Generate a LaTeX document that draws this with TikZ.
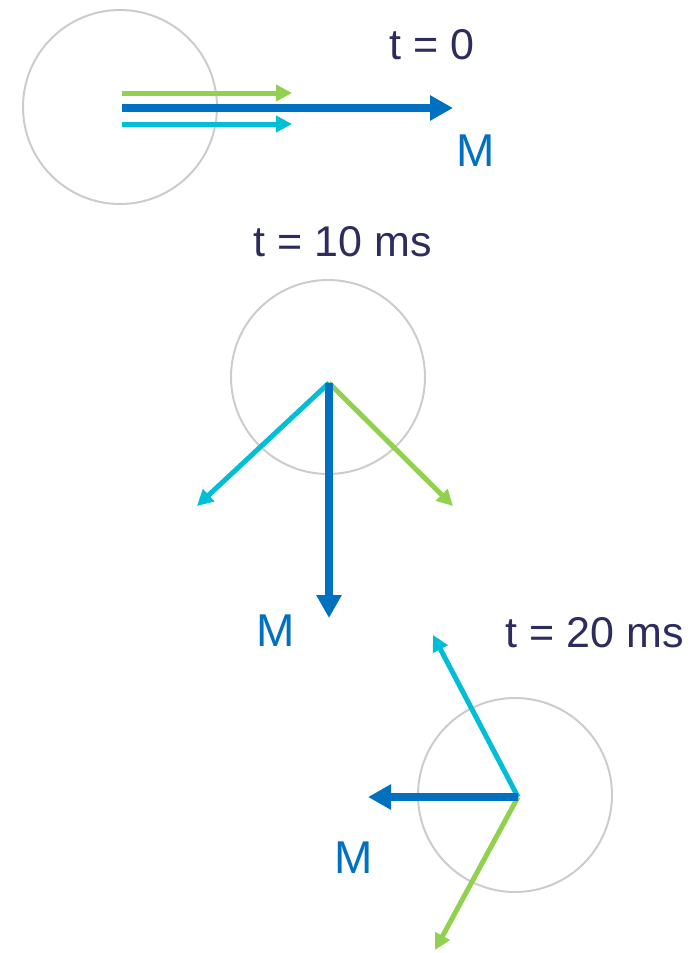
\documentclass[tikz,border=0pt]{standalone}
\usepackage{fontspec}
\setmainfont{Liberation Sans}
\usetikzlibrary{arrows.meta}
\definecolor{navy}{RGB}{46,44,94}
\definecolor{mblue}{RGB}{0,112,192}
\definecolor{vgreen}{RGB}{146,208,80}
\definecolor{vcyan}{RGB}{0,190,214}
\definecolor{ring}{RGB}{204,204,204}
\tikzset{
  ringc/.style={draw=ring, line width=2pt},
  bigvec/.style={draw=mblue, line width=8.5pt, -{Triangle[length=23pt,width=24pt]}},
  greenvec/.style={draw=vgreen, line width=5pt, -{Triangle[length=16pt,width=16pt]}},
  cyanvec/.style={draw=vcyan, line width=5pt, -{Triangle[length=16pt,width=16pt]}},
  tlabel/.style={text=navy, font=\fontsize{43}{47}\selectfont, inner sep=0pt},
  mlabel/.style={text=mblue, font=\fontsize{46}{50}\selectfont, inner sep=0pt}
}
\begin{document}
\begin{tikzpicture}[x=1pt,y=-1pt]
\useasboundingbox (0,0) rectangle (693,953);
% t = 0
\draw[ringc] (120,107) circle (97);
\coordinate (ga) at (122,93); \coordinate (gb) at (292,93);
\coordinate (ba) at (122,108); \coordinate (bb) at (453,108);
\coordinate (ca) at (122,124); \coordinate (cb) at (292,124);
\draw[greenvec] (ga) -- (gb);
\draw[bigvec] (ba) -- (bb);
\draw[cyanvec] (ca) -- (cb);
\node[tlabel] (t0) at (432,45) {t = 0};
\node[mlabel] (m0) at (476,151) {M};
% t = 10 ms
\draw[ringc] (328,377) circle (97);
\coordinate (o2) at (329,383);
\coordinate (c2) at (197,506);
\coordinate (g2) at (453,506);
\coordinate (b2) at (329,618);
\draw[cyanvec] (o2) -- (c2);
\draw[greenvec] (o2) -- (g2);
\draw[bigvec] (o2) -- (b2);
\node[tlabel] (t10) at (343,242) {t = 10 ms};
\node[mlabel] (m10) at (276,631) {M};
% t = 20 ms
\draw[ringc] (515,795) circle (97);
\coordinate (o3) at (518,797);
\coordinate (c3) at (433,635);
\coordinate (g3) at (435,950);
\coordinate (b3) at (368,797);
\draw[cyanvec] (o3) -- (c3);
\draw[greenvec] (o3) -- (g3);
\draw[bigvec] (o3) -- (b3);
\node[tlabel] (t20) at (595,633) {t = 20 ms};
\node[mlabel] (m20) at (354,858) {M};
\end{tikzpicture}
\end{document}
